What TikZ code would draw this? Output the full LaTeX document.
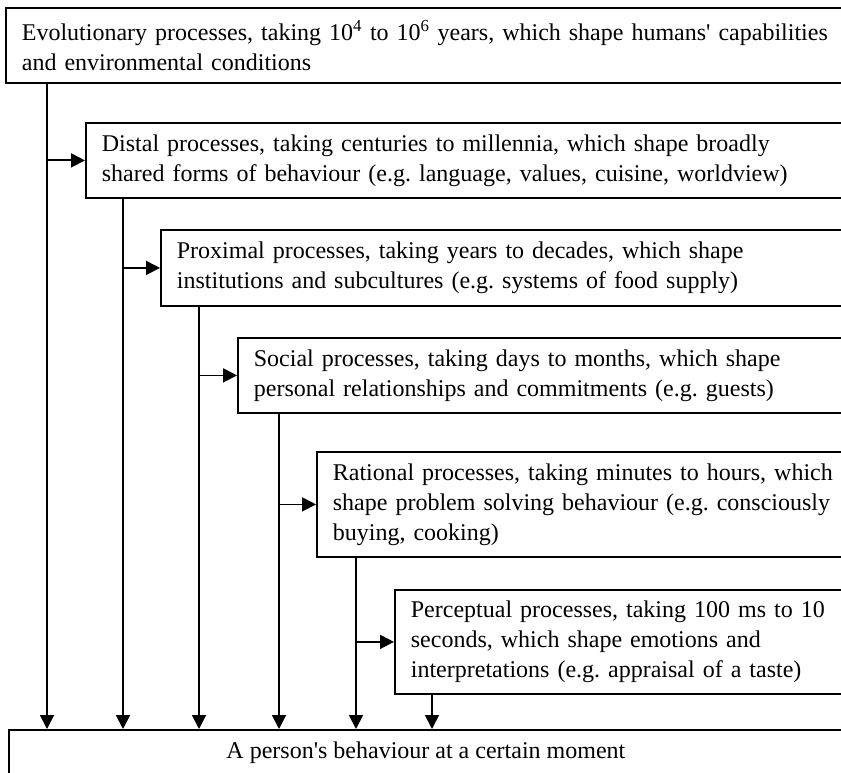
\documentclass[tikz,border=0pt]{standalone}
\usepackage{fontspec}
\setmainfont{Liberation Serif}
\usetikzlibrary{arrows.meta}
\frenchspacing
\begin{document}
\begin{tikzpicture}[x=1pt,y=-1pt,
  procbox/.style={draw, line width=1.8pt, rectangle, anchor=north west,
    align=left, text width=900pt, inner xsep=16pt, inner ysep=0pt,
    font=\fontsize{24}{30}\selectfont},
  arr/.style={line width=1.8pt, -{Triangle[length=14pt,width=14pt]}}]
\useasboundingbox (0,0) rectangle (841,773);
\clip (0,0) rectangle (841,773);
\node[procbox, minimum height=75pt] (b1) at (5,7)
  {Evolutionary processes, taking 10\textsuperscript{4} to 10\textsuperscript{6} years, which shape humans\textquotesingle{} capabilities\\and environmental conditions};
\node[procbox, minimum height=75pt] (b2) at (85,122)
  {Distal processes, taking centuries to millennia, which shape broadly\\shared forms of behaviour (e.g. language, values, cuisine, worldview)};
\node[procbox, minimum height=76pt] (b3) at (160,229)
  {Proximal processes, taking years to decades, which shape\\institutions and subcultures (e.g. systems of food supply)};
\node[procbox, minimum height=75pt] (b4) at (237,337)
  {Social processes, taking days to months, which shape\\personal relationships and commitments (e.g. guests)};
\node[procbox, minimum height=105pt] (b5) at (316,451)
  {Rational processes, taking minutes to hours, which\\shape problem solving behaviour (e.g. consciously\\buying, cooking)};
\node[procbox, minimum height=104pt] (b6) at (394,589)
  {Perceptual processes, taking 100 ms to 10\\seconds, which shape emotions and\\interpretations (e.g. appraisal of a taste)};
\node[draw, line width=1.8pt, rectangle, anchor=north west, minimum width=834pt,
  minimum height=46pt, inner sep=0pt, font=\fontsize{24}{30}\selectfont] (out) at (8,729)
  {A person\textquotesingle{}s behaviour at a certain moment};
\coordinate (x1) at (47,0);
\coordinate (x2) at (123,0);
\coordinate (x3) at (199,0);
\coordinate (x4) at (279,0);
\coordinate (x5) at (356,0);
\coordinate (x6) at (432,0);
\draw[arr] (x1 |- b1.south) -- (x1 |- out.north);
\draw[arr] (x2 |- b2.south) -- (x2 |- out.north);
\draw[arr] (x3 |- b3.south) -- (x3 |- out.north);
\draw[arr] (x4 |- b4.south) -- (x4 |- out.north);
\draw[arr] (x5 |- b5.south) -- (x5 |- out.north);
\draw[arr] (x6 |- b6.south) -- (x6 |- out.north);
\draw[arr] (x1 |- b2.west) -- (b2.west);
\draw[arr] (x2 |- b3.west) -- (b3.west);
\draw[arr] (x3 |- b4.west) -- (b4.west);
\draw[arr] (x4 |- b5.west) -- (b5.west);
\draw[arr] (x5 |- b6.west) -- (b6.west);
\end{tikzpicture}
\end{document}
